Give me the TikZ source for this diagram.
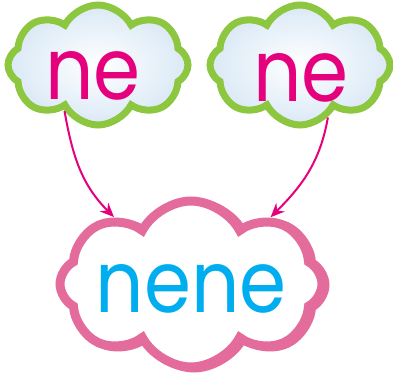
\documentclass[tikz,border=0pt]{standalone}
\usepackage{fontspec}
\setmainfont{Poppins}
\usetikzlibrary{shapes.symbols,arrows.meta}
\definecolor{leafgreen}{RGB}{141,198,63}
\definecolor{skyfill}{RGB}{218,233,246}
\definecolor{rosepink}{RGB}{228,108,157}
\definecolor{wordmag}{RGB}{229,0,125}
\definecolor{wordcyan}{RGB}{0,174,239}
\tikzset{
  smallcloud/.style={cloud, cloud puffs=8, cloud puff arc=125, draw=leafgreen, line width=7pt,
    inner color=white, outer color=skyfill, minimum width=180pt, minimum height=120pt},
  bigcloud/.style={cloud, cloud puffs=8, cloud puff arc=125, draw=rosepink, line width=9pt,
    fill=white, minimum width=262pt, minimum height=166pt},
  word/.style={font=\fontsize{86}{86}\selectfont},
  joinarrow/.style={draw=wordmag, line width=2pt, -{Stealth[length=14pt,width=12pt]}}
}
\newcommand{\narrow}[1]{\scalebox{0.88}[1]{#1}}
\begin{document}
\begin{tikzpicture}[x=1pt,y=1pt]
\useasboundingbox (0,0) rectangle (393,378);
\node[smallcloud] (lcloud) at (98,313) {};
\node[smallcloud] (rcloud) at (300,313) {};
\node[bigcloud, fill=rosepink] at (194,93) {};
\node[bigcloud] (bcloud) at (191,94) {};
\node[word, text=wordmag] (lne) at (93,302) {\narrow{ne}};
\node[word, text=wordmag] (rne) at (301,300) {\narrow{ne}};
\node[word, text=wordcyan] (bne) at (191,89) {\narrow{nene}};
\draw[joinarrow] (lcloud.234) to[out=-80,in=135] (bcloud.139);
\draw[joinarrow] (rcloud.298) to[out=-100,in=45] (bcloud.40);
\end{tikzpicture}
\end{document}
